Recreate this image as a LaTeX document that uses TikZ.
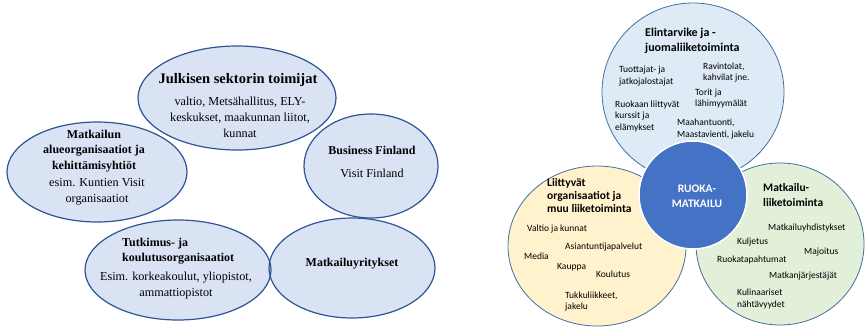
\documentclass[tikz,border=0pt]{standalone}
\usepackage{fontspec}
\setmainfont{Liberation Serif}
\newfontfamily\carl{Carlito}
\usetikzlibrary{shapes.geometric}
\definecolor{ovalfill}{HTML}{D9E3F4}
\definecolor{ovalline}{HTML}{2F5597}
\definecolor{topfill}{HTML}{DEEBF7}
\definecolor{ringline}{HTML}{41719C}
\definecolor{corefill}{HTML}{4472C4}
\definecolor{yelfill}{HTML}{FFF2CC}
\definecolor{grnfill}{HTML}{E2F0D9}
\tikzset{
  oval/.style={ellipse, inner sep=0pt, fill=ovalfill},
  ovalrim/.style={ellipse, inner sep=0pt, draw=ovalline, line width=1.2pt},
  ring/.style={ellipse, inner sep=0pt, draw=ringline, line width=0.8pt},
  ttl/.style={font=\fontsize{12}{15.5}\selectfont\bfseries, align=center, inner sep=0pt},
  txt/.style={font=\fontsize{12.2}{16}\selectfont, align=center, inner sep=0pt},
  rttl/.style={font=\carl\fontsize{11.5}{13}\selectfont\bfseries, align=left, inner sep=0pt, anchor=west},
  rtxt/.style={font=\carl\fontsize{9.5}{11.5}\selectfont, align=left, inner sep=0pt, anchor=west},
}
\begin{document}
\begin{tikzpicture}[x=1pt,y=-1pt]
\useasboundingbox (0,0) rectangle (868,327);

% ---------- left: actors of tourism ----------
% fills first, outlines afterwards so every rim stays visible
\foreach \n/\cx/\cy/\w/\h in {jul/237/98/198/104, alue/97/172/180/100, bf/371/166/134/104, tut/178/270/186/100, myr/352/268/166/100}
  \node[oval, minimum width=\w pt, minimum height=\h pt] (\n) at (\cx,\cy) {};
\foreach \cx/\cy/\w/\h in {237/98/198/104, 97/172/180/100, 371/166/134/104, 178/270/186/100, 352/268/166/100}
  \node[ovalrim, minimum width=\w pt, minimum height=\h pt] at (\cx,\cy) {};

\node[ttl, font=\fontsize{14.5}{16}\selectfont\bfseries] (julT) at (238,80) {Julkisen sektorin toimijat};
\node[txt] (julB) at (240,117) {valtio, Metsähallitus, ELY-\\keskukset, maakunnan liitot,\\kunnat};

\node[ttl] (alueT) at (94,151) {Matkailun\\alueorganisaatiot ja\\kehittämisyhtiöt};
\node[txt] (alueB) at (97,192) {esim. Kuntien Visit\\organisaatiot};

\node[ttl] (bfT) at (372,150) {Business Finland};
\node[txt] (bfB) at (372,173) {Visit Finland};

\node[ttl, align=left, anchor=west] (tutT) at (122,251) {Tutkimus- ja\\koulutusorganisaatiot};
\node[txt] (tutB) at (176,286) {Esim. korkeakoulut, yliopistot,\\ammattiopistot};

\node[ttl] (myrT) at (352,264) {Matkailuyritykset};

% ---------- right: food tourism ----------
\node[ring, fill=topfill, minimum width=182pt, minimum height=178pt] (food) at (693,92) {};
\node[ring, fill=yelfill, minimum width=178pt, minimum height=160pt] (org) at (597,246) {};
\node[ring, fill=grnfill, minimum width=168pt, minimum height=162pt] (tour) at (780,244) {};
\node[circle, inner sep=0pt, fill=corefill, draw=white, line width=1.5pt, minimum size=108pt] (core) at (693,195) {};

\node[font=\carl\fontsize{11.5}{15}\selectfont\bfseries, text=white, align=center, inner sep=0pt] (coreT) at (697,196) {RUOKA-\\MATKAILU};

\node[rttl, font=\carl\fontsize{12}{15}\selectfont\bfseries] (foodT) at (645,40.5) {Elintarvike ja -\\juomaliiketoiminta};
\node[rtxt] (f1) at (619,76) {Tuottajat- ja\\jatkojalostajat};
\node[rtxt] (f2) at (703,72.5) {Ravintolat,\\kahvilat jne.};
\node[rtxt] (f3) at (695,98.5) {Torit ja\\lähimyymälät};
\node[rtxt] (f4) at (615,116) {Ruokaan liittyvät\\kurssit ja\\elämykset};
\node[rtxt] (f5) at (677,129) {Maahantuonti,\\Maastavienti, jakelu};

\node[rttl] (orgT) at (547,196) {Liittyvät\\organisaatiot ja\\muu liiketoiminta};
\node[rtxt] (o1) at (527,229) {Valtio ja kunnat};
\node[rtxt] (o2) at (565,247) {Asiantuntijapalvelut};
\node[rtxt] (o3) at (524,256) {Media};
\node[rtxt] (o4) at (557,267) {Kauppa};
\node[rtxt] (o5) at (596,274) {Koulutus};
\node[rtxt] (o6) at (565,301.5) {Tukkuliikkeet,\\jakelu};

\node[rttl, font=\carl\fontsize{11.5}{15}\selectfont\bfseries] (tourT) at (763,195.5) {Matkailu-\\liiketoiminta};
\node[rtxt] (t1) at (768,228) {Matkailuyhdistykset};
\node[rtxt] (t2) at (737,242) {Kuljetus};
\node[rtxt] (t3) at (804,252) {Majoitus};
\node[rtxt] (t4) at (717,260) {Ruokatapahtumat};
\node[rtxt] (t5) at (769,276) {Matkanjärjestäjät};
\node[rtxt] (t6) at (737,299) {Kulinaariset\\nähtävyydet};
\end{tikzpicture}
\end{document}
